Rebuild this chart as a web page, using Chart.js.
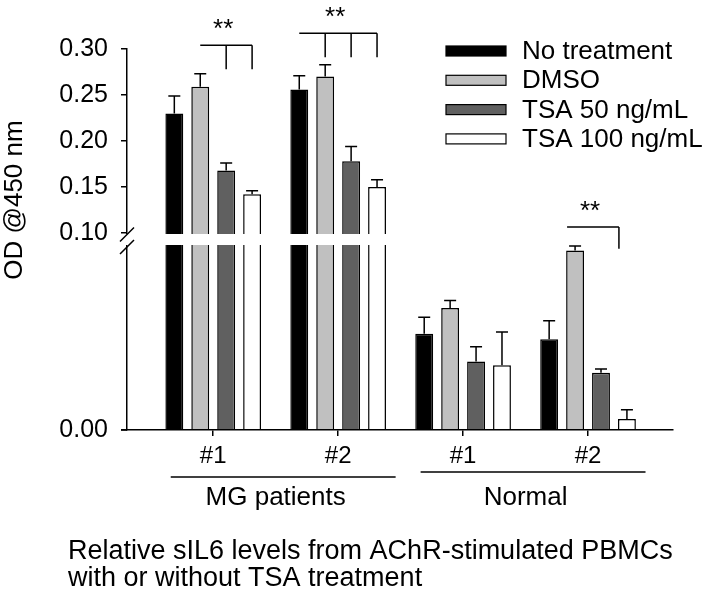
<!DOCTYPE html>
<html>
<head>
<meta charset="utf-8">
<script src="https://cdn.jsdelivr.net/npm/chart.js@4.4.1/dist/chart.umd.min.js"></script>
<style>
  html, body { margin: 0; padding: 0; background: #fff; }
</style>
</head>
<body>
<canvas id="odChart" width="709" height="590"></canvas>
<script>
// data
var sampleLabels = ['#1', '#2', '#1', '#2'];
var groupNames = ['MG patients', 'Normal'];
var groupSamples = [[0, 1], [2, 3]];
var seriesNames = ['No treatment', 'DMSO', 'TSA 50 ng/mL', 'TSA 100 ng/mL'];
var noTreatment = [0.230, 0.256, 0.052, 0.049];
var dmso = [0.259, 0.270, 0.066, 0.097];
var tsa50 = [0.168, 0.178, 0.037, 0.031];
var tsa100 = [0.142, 0.150, 0.035, 0.006];
var noTreatmentErr = [0.019, 0.015, 0.009, 0.010];
var dmsoErr = [0.014, 0.013, 0.004, 0.0025];
var tsa50Err = [0.008, 0.016, 0.008, 0.002];
var tsa100Err = [0.004, 0.008, 0.018, 0.005];
var yTicks = [0, 0.10, 0.15, 0.20, 0.25, 0.30];
var yTitle = 'OD @450 nm';
var caption = ['Relative sIL6 levels from AChR-stimulated PBMCs', 'with or without TSA treatment'];

// significance brackets: sample, bracket from/to series, drop lines, heights
var sigMarks = [
    { sample: 0, from: 1, to: 3, drops: [2, 3], level: 0.304, end: 0.278, dx: 0 },
    { sample: 1, from: 0, to: 3, drops: [1, 2, 3], level: 0.317, end: 0.291, dx: 0 },
    { sample: 3, from: 1, to: 3, drops: [3], level: 0.1065, end: 0.098, dx: -8 }
];

var BREAK_AT = 0.10;
var LOW_PX = 185;   // height of the part below the break
var GAP_PX = 12;
var FONT = "'Liberation Sans', Arial, sans-serif";

// linear axis with a break: 0..BREAK_AT in the bottom part, BREAK_AT..max above
class BrokenLinear extends Chart.LinearScale {
    static id = 'brokenLinear';
    static defaults = {};
    getPixelForValue(value) {
        if (value === null || value === undefined || isNaN(value)) return NaN;
        var lo = this.bottom - LOW_PX;
        var hi = lo - GAP_PX;
        if (value < BREAK_AT) {
            return this.bottom - (value - this.min) / (BREAK_AT - this.min) * LOW_PX;
        }
        return hi - (value - BREAK_AT) / (this.max - BREAK_AT) * (hi - this.top);
    }
    getValueForPixel(pixel) {
        var lo = this.bottom - LOW_PX;
        var hi = lo - GAP_PX;
        if (pixel >= lo) return this.min + (this.bottom - pixel) / LOW_PX * (BREAK_AT - this.min);
        return BREAK_AT + (hi - pixel) / (hi - this.top) * (this.max - BREAK_AT);
    }
}
Chart.register(BrokenLinear);

Chart.defaults.font.family = FONT;
Chart.defaults.color = '#000';

var decor = {
    id: 'decor',
    afterDraw: function (chart) {
        var ctx = chart.ctx, xs = chart.scales.x, ys = chart.scales.y, area = chart.chartArea;
        ctx.save();
        ctx.strokeStyle = '#000';
        ctx.lineWidth = 1.5;

        // error bars (upper only)
        chart.data.datasets.forEach(function (ds, i) {
            chart.getDatasetMeta(i).data.forEach(function (bar, j) {
                var top = ys.getPixelForValue(ds.data[j] + ds.errors[j]);
                ctx.beginPath();
                ctx.moveTo(bar.x, bar.y);
                ctx.lineTo(bar.x, top);
                ctx.moveTo(bar.x - 6, top);
                ctx.lineTo(bar.x + 6, top);
                ctx.stroke();
            });
        });

        // axis break
        var hi = ys.getPixelForValue(BREAK_AT);
        var lo = ys.bottom - LOW_PX;
        ctx.fillStyle = '#fff';
        ctx.fillRect(area.left - 3, hi + 1, area.right - area.left + 3, lo - hi - 1);
        ctx.beginPath();
        [hi + 1.5, lo + 2].forEach(function (cy) {
            ctx.moveTo(area.left - 7, cy + 7);
            ctx.lineTo(area.left + 7, cy - 7);
        });
        ctx.stroke();

        // small stub of the x axis left of the y axis
        ctx.beginPath();
        ctx.moveTo(area.left - 6, area.bottom);
        ctx.lineTo(area.left, area.bottom);
        ctx.stroke();

        // y axis title
        ctx.save();
        ctx.translate(15, 200);
        ctx.rotate(-Math.PI / 2);
        ctx.font = '26px ' + FONT;
        ctx.fillStyle = '#000';
        ctx.textAlign = 'center';
        ctx.textBaseline = 'middle';
        ctx.fillText(yTitle, 0, 0);
        ctx.restore();

        // significance brackets
        ctx.font = '26px ' + FONT;
        ctx.fillStyle = '#000';
        ctx.textAlign = 'center';
        ctx.textBaseline = 'alphabetic';
        sigMarks.forEach(function (m) {
            var xFrom = chart.getDatasetMeta(m.from).data[m.sample].x + m.dx;
            var xTo = chart.getDatasetMeta(m.to).data[m.sample].x + m.dx;
            var yl = ys.getPixelForValue(m.level);
            var ye = ys.getPixelForValue(m.end);
            ctx.beginPath();
            ctx.moveTo(xFrom, yl);
            ctx.lineTo(xTo, yl);
            m.drops.forEach(function (d) {
                var xd = chart.getDatasetMeta(d).data[m.sample].x + m.dx;
                ctx.moveTo(xd, yl);
                ctx.lineTo(xd, ye);
            });
            ctx.stroke();
            ctx.fillText('**', (xFrom + xTo) / 2 - 3, yl - 8);
        });

        // legend
        ctx.font = '26px ' + FONT;
        ctx.textAlign = 'left';
        ctx.textBaseline = 'middle';
        chart.data.datasets.forEach(function (ds, i) {
            var cy = 51 + i * 29.3;
            ctx.fillStyle = ds.backgroundColor;
            ctx.fillRect(446, cy - 5, 60, 10);
            ctx.lineWidth = 1.2;
            ctx.strokeRect(446, cy - 5, 60, 10);
            ctx.fillStyle = '#000';
            ctx.fillText(ds.label, 522, cy + 1);
        });

        // group labels under the sample ticks
        ctx.lineWidth = 1.5;
        ctx.font = '26px ' + FONT;
        ctx.textAlign = 'center';
        groupSamples.forEach(function (g, k) {
            var a = xs.getPixelForValue(g[0] - 0.34);
            var b = xs.getPixelForValue(g[1] + 0.46);
            var ly = k === 0 ? 477 : 472;
            ctx.beginPath();
            ctx.moveTo(a, ly);
            ctx.lineTo(b, ly);
            ctx.stroke();
            var mid = (xs.getPixelForValue(g[0]) + xs.getPixelForValue(g[1])) / 2;
            ctx.fillText(groupNames[k], mid, 498);
        });

        // caption
        ctx.font = '27px ' + FONT;
        ctx.textAlign = 'left';
        caption.forEach(function (line, k) {
            ctx.fillText(line, 68, 552 + k * 27);
        });
        ctx.restore();
    }
};

var borderCol = '#000';
var ctx = document.getElementById('odChart').getContext('2d');
var chart = new Chart(ctx, {
    type: 'bar',
    data: {
        labels: [0, 1, 2, 3],
        datasets: [
            { label: seriesNames[0], data: noTreatment, errors: noTreatmentErr, backgroundColor: '#000000' },
            { label: seriesNames[1], data: dmso, errors: dmsoErr, backgroundColor: '#c0c0c0' },
            { label: seriesNames[2], data: tsa50, errors: tsa50Err, backgroundColor: '#606060' },
            { label: seriesNames[3], data: tsa100, errors: tsa100Err, backgroundColor: '#ffffff' }
        ]
    },
    options: {
        responsive: false,
        animation: false,
        layout: { padding: { left: 0, right: 36, top: 49, bottom: 0 } },
        datasets: {
            bar: {
                borderColor: borderCol,
                borderWidth: 1.5,
                categoryPercentage: 0.83,
                barPercentage: 0.69
            }
        },
        plugins: {
            legend: { display: false },
            tooltip: { enabled: false }
        },
        scales: {
            x: {
                type: 'linear',
                min: -0.69,
                max: 3.68,
                offset: false,
                afterBuildTicks: function (s) { s.ticks = sampleLabels.map(function (l, i) { return { value: i }; }); },
                afterFit: function (s) { s.height = 160; },
                ticks: {
                    callback: function (v) { return sampleLabels[v]; },
                    font: { size: 24 },
                    color: '#000',
                    padding: 6,
                    maxRotation: 0
                },
                grid: { offset: false, drawOnChartArea: false, drawTicks: true, tickLength: 6, color: '#000', lineWidth: 1.5 },
                border: { display: true, color: '#000', width: 1.5, z: 1 }
            },
            y: {
                type: 'brokenLinear',
                min: 0,
                max: 0.30,
                afterBuildTicks: function (s) { s.ticks = yTicks.map(function (v) { return { value: v }; }); },
                afterFit: function (s) { s.width = 127; },
                ticks: {
                    callback: function (v) { return v.toFixed(2); },
                    font: { size: 25 },
                    color: '#000',
                    padding: 13
                },
                grid: { drawOnChartArea: false, drawTicks: true, tickLength: 6, color: '#000', lineWidth: 1.5 },
                border: { display: true, color: '#000', width: 1.5 }
            }
        }
    },
    plugins: [decor]
});
</script>
</body>
</html>
